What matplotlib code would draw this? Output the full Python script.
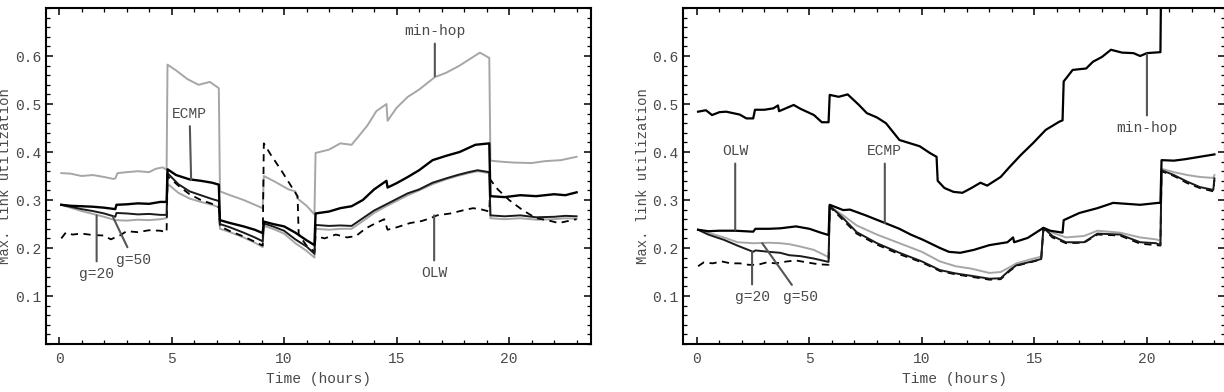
import matplotlib
matplotlib.use('Agg')
import matplotlib.pyplot as plt
from matplotlib.ticker import MultipleLocator

plt.rcParams['font.family'] = ['Liberation Mono', 'DejaVu Sans Mono']
plt.rcParams['font.size'] = 10.5

# ---- left panel ----
mh_l_t = [0.1, 0.5, 1.0, 1.5, 2.0, 2.4, 2.5, 2.6, 3.0, 3.5, 4.0, 4.3, 4.6, 4.78, 4.82, 5.2, 5.7, 6.2,
          6.7, 7.1, 7.15, 7.6, 8.2, 8.7, 9.05, 9.1, 9.6, 10.2, 10.5, 10.6, 11.0, 11.35, 11.4, 12.0,
          12.5, 13.0, 13.3, 13.7, 14.1, 14.55, 14.6, 15.0, 15.5, 16.0, 16.7, 17.2, 17.8, 18.3, 18.7,
          19.12, 19.17, 19.6, 20.2, 21.0, 21.6, 22.3, 23.0]
mh_l_v = [0.356, 0.355, 0.350, 0.352, 0.348, 0.344, 0.345, 0.356, 0.358, 0.360, 0.358, 0.365, 0.368,
          0.363, 0.582, 0.570, 0.552, 0.540, 0.546, 0.533, 0.318, 0.310, 0.300, 0.290, 0.283, 0.350,
          0.338, 0.322, 0.318, 0.303, 0.288, 0.270, 0.398, 0.405, 0.418, 0.415, 0.432, 0.455, 0.485,
          0.500, 0.465, 0.492, 0.515, 0.530, 0.556, 0.565, 0.580, 0.595, 0.607, 0.596, 0.382, 0.380,
          0.378, 0.377, 0.381, 0.383, 0.390]

ecmp_l_t = [0.1, 0.5, 1.0, 1.5, 2.0, 2.5, 2.55, 3.0, 3.5, 4.0, 4.5, 4.78, 4.82, 5.2, 5.8, 6.3, 6.8,
            7.1, 7.15, 7.6, 8.2, 8.7, 9.05, 9.1, 9.5, 10.0, 10.5, 11.0, 11.35, 11.4, 12.0, 12.5,
            13.0, 13.5, 14.0, 14.55, 14.6, 15.0, 15.5, 16.0, 16.6, 17.2, 17.8, 18.5, 19.12, 19.17,
            19.8, 20.5, 21.2, 22.0, 22.5, 23.0]
ecmp_l_v = [0.290, 0.288, 0.287, 0.286, 0.284, 0.281, 0.290, 0.291, 0.293, 0.292, 0.296, 0.296,
            0.364, 0.352, 0.343, 0.340, 0.336, 0.332, 0.258, 0.252, 0.245, 0.238, 0.231, 0.255,
            0.250, 0.245, 0.232, 0.216, 0.206, 0.272, 0.276, 0.283, 0.287, 0.300, 0.322, 0.340,
            0.326, 0.335, 0.348, 0.362, 0.383, 0.392, 0.400, 0.415, 0.418, 0.308, 0.306, 0.310,
            0.308, 0.312, 0.310, 0.316]

g_l_t = [0.1, 0.5, 1.0, 1.5, 2.0, 2.5, 2.55, 3.0, 3.5, 4.0, 4.5, 4.78, 4.82, 5.3, 5.8, 6.3, 6.8,
         7.1, 7.15, 7.6, 8.2, 8.7, 9.05, 9.1, 9.5, 10.0, 10.5, 11.0, 11.35, 11.4, 12.0, 12.5, 13.0,
         13.5, 14.0, 14.5, 15.0, 15.5, 16.0, 16.6, 17.2, 17.7, 18.2, 18.6, 19.12, 19.17, 19.8, 20.5,
         21.2, 22.0, 22.5, 23.0]
g20_l_v = [0.290, 0.286, 0.281, 0.277, 0.272, 0.265, 0.273, 0.272, 0.270, 0.271, 0.269, 0.269,
           0.356, 0.333, 0.318, 0.310, 0.302, 0.298, 0.250, 0.243, 0.232, 0.222, 0.214, 0.251,
           0.245, 0.236, 0.218, 0.203, 0.188, 0.248, 0.246, 0.247, 0.246, 0.262, 0.278, 0.290,
           0.302, 0.314, 0.322, 0.336, 0.345, 0.352, 0.358, 0.362, 0.358, 0.268, 0.266, 0.268,
           0.264, 0.265, 0.267, 0.266]
g50_l_v = [0.290, 0.284, 0.277, 0.271, 0.265, 0.258, 0.258, 0.257, 0.259, 0.258, 0.260, 0.262,
           0.334, 0.315, 0.303, 0.296, 0.290, 0.285, 0.240, 0.233, 0.222, 0.211, 0.202, 0.246,
           0.240, 0.230, 0.210, 0.194, 0.180, 0.240, 0.238, 0.240, 0.240, 0.256, 0.273, 0.286,
           0.298, 0.310, 0.320, 0.333, 0.343, 0.350, 0.356, 0.360, 0.356, 0.262, 0.260, 0.262,
           0.259, 0.260, 0.262, 0.261]

olw_l_t = [0.1, 0.3, 0.6, 1.0, 1.5, 2.0, 2.3, 2.7, 3.0, 3.5, 4.0, 4.5, 4.78, 4.82, 5.3, 5.8, 6.3,
           6.8, 7.1, 7.15, 7.6, 8.2, 8.7, 9.05, 9.1, 9.4, 9.9, 10.3, 10.6, 10.65, 11.0, 11.35, 11.4,
           11.8, 12.3, 12.8, 13.2, 13.6, 14.0, 14.45, 14.6, 15.0, 15.6, 16.1, 16.5, 16.8, 17.4,
           18.0, 18.4, 18.8, 19.12, 19.17, 19.5, 20.0, 20.6, 21.2, 21.7, 22.2, 22.6, 23.0]
olw_l_v = [0.220, 0.232, 0.228, 0.230, 0.227, 0.226, 0.218, 0.226, 0.235, 0.233, 0.237, 0.236,
           0.233, 0.350, 0.330, 0.312, 0.300, 0.292, 0.285, 0.245, 0.235, 0.224, 0.213, 0.205,
           0.418, 0.395, 0.360, 0.330, 0.308, 0.228, 0.205, 0.192, 0.225, 0.220, 0.228, 0.222,
           0.225, 0.240, 0.250, 0.260, 0.238, 0.243, 0.252, 0.256, 0.262, 0.268, 0.272, 0.279,
           0.283, 0.280, 0.276, 0.342, 0.322, 0.300, 0.279, 0.262, 0.258, 0.252, 0.256, 0.260]

# ---- right panel ----
mh_r_t = [0.05, 0.4, 0.67, 1.0, 1.3, 1.9, 2.2, 2.5, 2.58, 3.0, 3.4, 3.6, 3.65, 4.3, 4.6, 5.2, 5.55,
          5.85, 5.9, 6.3, 6.7, 7.2, 7.55, 8.0, 8.4, 9.0, 9.9, 10.35, 10.65, 10.7, 11.0, 11.4, 11.8,
          12.2, 12.6, 12.9, 13.5, 13.9, 14.4, 14.95, 15.5, 16.1, 16.25, 16.3, 16.7, 17.3, 17.6,
          18.0, 18.4, 18.9, 19.4, 19.7, 20.0, 20.6, 20.65, 21.5, 23.0]
mh_r_v = [0.484, 0.487, 0.477, 0.483, 0.484, 0.478, 0.470, 0.470, 0.488, 0.488, 0.491, 0.497,
          0.485, 0.498, 0.490, 0.477, 0.462, 0.462, 0.519, 0.515, 0.520, 0.498, 0.481, 0.472,
          0.460, 0.425, 0.412, 0.398, 0.390, 0.340, 0.325, 0.317, 0.315, 0.325, 0.336, 0.330,
          0.348, 0.369, 0.394, 0.419, 0.446, 0.463, 0.466, 0.547, 0.571, 0.574, 0.588, 0.598,
          0.613, 0.607, 0.606, 0.600, 0.606, 0.608, 0.850, 0.850, 0.850]

ecmp_r_t = [0.05, 0.5, 1.0, 1.7, 2.5, 2.6, 3.2, 3.7, 4.4, 5.0, 5.5, 5.85, 5.9, 6.5, 6.8, 7.5, 8.36,
            9.0, 9.5, 10.05, 10.8, 11.2, 11.7, 12.3, 13.0, 13.8, 14.05, 14.1, 14.7, 15.4, 15.7,
            16.25, 16.3, 17.0, 17.8, 18.5, 19.1, 19.7, 20.5, 20.6, 20.65, 21.2, 21.7, 22.35, 23.0]
ecmp_r_v = [0.238, 0.235, 0.236, 0.236, 0.234, 0.240, 0.240, 0.241, 0.245, 0.240, 0.232, 0.227,
            0.290, 0.279, 0.280, 0.268, 0.252, 0.240, 0.228, 0.217, 0.200, 0.192, 0.190, 0.196,
            0.206, 0.212, 0.222, 0.212, 0.221, 0.242, 0.236, 0.232, 0.258, 0.273, 0.283, 0.294,
            0.292, 0.290, 0.294, 0.294, 0.383, 0.382, 0.385, 0.390, 0.395]

g_r_t = [0.05, 0.5, 1.2, 1.8, 2.5, 2.6, 3.2, 3.7, 4.1, 4.6, 5.2, 5.85, 5.9, 6.5, 7.1, 8.0, 9.0,
         10.0, 10.8, 11.5, 12.2, 13.0, 13.5, 13.9, 14.2, 14.8, 15.3, 15.4, 15.8, 16.4, 17.2, 17.8,
         18.8, 19.7, 20.4, 20.6, 20.65, 21.2, 21.8, 22.35, 22.95, 23.0]
g20_r_v = [0.238, 0.228, 0.217, 0.205, 0.192, 0.195, 0.192, 0.190, 0.185, 0.183, 0.178, 0.171,
           0.288, 0.262, 0.233, 0.210, 0.190, 0.172, 0.154, 0.147, 0.142, 0.136, 0.137, 0.154,
           0.164, 0.171, 0.177, 0.242, 0.225, 0.212, 0.212, 0.230, 0.228, 0.212, 0.210, 0.206,
           0.362, 0.352, 0.338, 0.327, 0.321, 0.345]
g50_r_v = [0.238, 0.232, 0.222, 0.212, 0.210, 0.210, 0.211, 0.210, 0.208, 0.203, 0.196, 0.181,
           0.286, 0.268, 0.247, 0.228, 0.210, 0.192, 0.172, 0.162, 0.157, 0.148, 0.150, 0.160,
           0.168, 0.176, 0.182, 0.242, 0.232, 0.222, 0.225, 0.236, 0.232, 0.222, 0.218, 0.215,
           0.365, 0.358, 0.352, 0.348, 0.346, 0.352]

olw_r_t = [0.05, 0.3, 0.7, 1.1, 1.5, 1.9, 2.3, 2.7, 3.1, 3.5, 4.0, 4.4, 4.9, 5.4, 5.85, 5.9, 6.5,
           7.1, 8.0, 9.0, 10.0, 10.8, 11.5, 12.2, 13.0, 13.5, 13.9, 14.2, 14.8, 15.3, 15.4, 15.8,
           16.4, 17.2, 17.8, 18.8, 19.7, 20.4, 20.6, 20.65, 21.2, 21.8, 22.35, 22.95, 23.0]
olw_r_v = [0.162, 0.170, 0.168, 0.172, 0.168, 0.168, 0.165, 0.165, 0.170, 0.168, 0.172, 0.174,
           0.170, 0.166, 0.165, 0.286, 0.258, 0.230, 0.207, 0.187, 0.170, 0.152, 0.145, 0.140,
           0.134, 0.135, 0.152, 0.163, 0.170, 0.176, 0.240, 0.222, 0.210, 0.211, 0.228, 0.226,
           0.209, 0.206, 0.205, 0.360, 0.350, 0.335, 0.325, 0.318, 0.342]

light = '#a6a6a6'
text_col = '#4a4a4a'

fig = plt.figure(figsize=(12.24, 3.92), dpi=100)
ax1 = fig.add_axes([46 / 1224, 48 / 392, 545 / 1224, 336 / 392])
ax2 = fig.add_axes([683 / 1224, 48 / 392, 542 / 1224, 336 / 392])

# left
ax1.plot(mh_l_t, mh_l_v, color=light, lw=1.4)
ax1.plot(g_l_t, g50_l_v, color=light, lw=1.4)
ax1.plot(olw_l_t, olw_l_v, color='black', lw=1.3, dashes=(4, 3))
ax1.plot(g_l_t, g20_l_v, color='#1a1a1a', lw=1.4)
ax1.plot(ecmp_l_t, ecmp_l_v, color='black', lw=1.7)
ax1.set_xlim(-0.58, 23.64)

# right
ax2.plot(g_r_t, g50_r_v, color=light, lw=1.4)
ax2.plot(olw_r_t, olw_r_v, color='black', lw=1.3, dashes=(4, 3))
ax2.plot(g_r_t, g20_r_v, color='#1a1a1a', lw=1.4)
ax2.plot(ecmp_r_t, ecmp_r_v, color='black', lw=1.6)
ax2.plot(mh_r_t, mh_r_v, color='black', lw=1.6)
ax2.set_xlim(-0.62, 23.47)

for ax in (ax1, ax2):
    ax.set_ylim(0, 0.7)
    ax.set_yticks([0.1, 0.2, 0.3, 0.4, 0.5, 0.6])
    ax.set_xticks([0, 5, 10, 15, 20])
    ax.xaxis.set_minor_locator(MultipleLocator(1))
    ax.yaxis.set_minor_locator(MultipleLocator(0.02))
    ax.tick_params(which='both', direction='in', top=True, right=True, labelcolor=text_col,
                   labelsize=10.5)
    ax.tick_params(axis='x', pad=6)
    ax.tick_params(axis='y', pad=3)
    ax.tick_params(which='major', length=5, width=1.1)
    ax.tick_params(which='minor', length=3, width=0.9)
    for s in ax.spines.values():
        s.set_linewidth(1.5)
    ax.set_xlabel('Time (hours)', color=text_col, labelpad=4)
    ax.set_ylabel('Max. link utilization', color=text_col, fontsize=10)

ax1.yaxis.set_label_coords(-0.063, 0.5)
ax2.yaxis.set_label_coords(-0.061, 0.5)

line_kw = dict(arrowstyle='-', color='#555555', lw=1.5, shrinkA=2, shrinkB=0)


def note(ax, label, xy, xytext):
    ax.annotate(label, xy=xy, xytext=xytext, ha='center', va='center', color=text_col,
                fontsize=10.5, arrowprops=line_kw)


note(ax1, 'ECMP', (5.87, 0.342), (5.8, 0.48))
note(ax1, 'min-hop', (16.7, 0.558), (16.7, 0.652))
note(ax1, 'OLW', (16.67, 0.268), (16.67, 0.148))
note(ax1, 'g=20', (1.67, 0.268), (1.67, 0.146))
note(ax1, 'g=50', (2.4, 0.264), (3.3, 0.176))

note(ax2, 'OLW', (1.7, 0.238), (1.7, 0.402))
note(ax2, 'ECMP', (8.35, 0.252), (8.35, 0.402))
note(ax2, 'min-hop', (20.0, 0.604), (20.0, 0.45))
note(ax2, 'g=20', (2.45, 0.192), (2.45, 0.098))
note(ax2, 'g=50', (2.9, 0.21), (4.6, 0.098))

fig.savefig('out.png', dpi=100)
